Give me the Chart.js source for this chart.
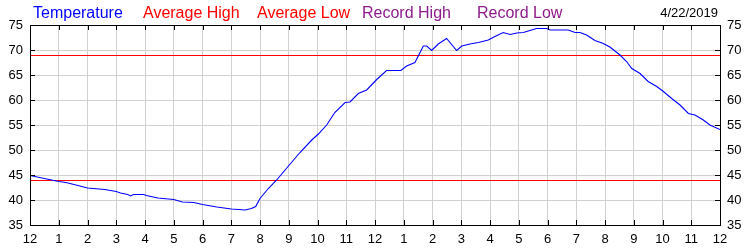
<!DOCTYPE html>
<html>
<head>
<meta charset="utf-8">
<script src="https://cdn.jsdelivr.net/npm/chart.js@4.4.1/dist/chart.umd.min.js"></script>
<style>
  html, body { margin: 0; padding: 0; background: #fff; }
  #wrap { width: 750px; height: 250px; }
</style>
</head>
<body>
<div id="wrap"><canvas id="tempChart" width="750" height="250"></canvas></div>
<script>
// hours after midnight
const hours = [0, 0.5, 1.0, 1.25, 1.6, 2.0, 2.6, 3.0, 3.15, 3.4,
  3.5, 3.6, 3.95, 4.05, 4.45, 5.0, 5.3, 5.7, 6.0, 6.5,
  7.0, 7.48, 7.7, 7.85, 8.0, 8.29, 8.58, 8.99, 9.39, 9.8,
  10.03, 10.32, 10.6, 10.96, 11.13, 11.42, 11.71, 12.06, 12.4, 12.9,
  13.1, 13.39, 13.68, 13.8, 13.97, 14.2, 14.49, 14.84, 15.02, 15.3,
  15.6, 15.94, 16.17, 16.46, 16.7, 16.93, 17.16, 17.39, 17.62, 17.97,
  18.09, 18.72, 18.96, 19.13, 19.36, 19.65, 19.94, 20.17, 20.52, 20.75,
  20.93, 21.22, 21.5, 21.8, 22.03, 22.32, 22.61, 22.9, 23.13, 23.42,
  23.65, 24.0];
const temps = [44.9, 44.3, 43.7, 43.5, 43.0, 42.4, 42.1, 41.7, 41.4, 41.1,
  40.8, 41.1, 41.1, 40.9, 40.4, 40.1, 39.6, 39.5, 39.1, 38.6,
  38.2, 38.0, 38.3, 38.7, 40.3, 42.3, 44.0, 46.8, 49.5, 52.0,
  53.2, 55.0, 57.5, 59.5, 59.6, 61.3, 62.0, 64.1, 65.9, 65.9,
  66.8, 67.5, 70.8, 70.8, 69.9, 71.2, 72.3, 69.9, 70.8, 71.2,
  71.5, 72.0, 72.7, 73.5, 73.1, 73.4, 73.5, 73.9, 74.3, 74.3,
  74.0, 74.0, 73.5, 73.5, 73.0, 71.9, 71.3, 70.6, 69.0, 67.7,
  66.3, 65.3, 63.7, 62.7, 61.7, 60.3, 59.0, 57.3, 57.0, 56.0,
  55.0, 54.1];
const averageHigh = 69;
const averageLow = 44;
const hourLabels = ["12", "1", "2", "3", "4", "5", "6", "7", "8", "9", "10", "11",
  "12", "1", "2", "3", "4", "5", "6", "7", "8", "9", "10", "11", "12"];
const legendNames = ["Temperature", "Average High", "Average Low", "Record High", "Record Low"];
const legendColors = ["#0000ff", "#ff0000", "#ff0000", "#8e1a8c", "#8e1a8c"];
const legendX = [33, 143, 257, 362, 477];
const dateText = "4/22/2019";

const FONT = "'Liberation Sans', Arial, sans-serif";

// box round the plot, little tick marks inside, legend text on top
const framePlugin = {
  id: "frame",
  // shift the flat average lines half a pixel so they come out sharp
  beforeDatasetDraw(chart, args) {
    if (args.index > 0) {
      chart.ctx.save();
      chart.ctx.translate(0, 0.5);
    }
  },
  afterDatasetDraw(chart, args) {
    if (args.index > 0) chart.ctx.restore();
  },
  afterDatasetsDraw(chart) {
    const ctx = chart.ctx;
    const a = chart.chartArea;
    const xs = chart.scales.x;
    const ys = chart.scales.y;
    ctx.save();
    ctx.strokeStyle = "#000";
    ctx.lineWidth = 1;
    ctx.beginPath();
    for (let h = 0; h <= 24; h++) {
      const px = Math.round(xs.getPixelForValue(h)) + 0.5;
      ctx.moveTo(px, a.top); ctx.lineTo(px, a.top + 5);
      ctx.moveTo(px, a.bottom); ctx.lineTo(px, a.bottom - 5);
    }
    for (let v = 35; v <= 75; v += 5) {
      const py = Math.round(ys.getPixelForValue(v)) + 0.5;
      ctx.moveTo(a.left, py); ctx.lineTo(a.left + 5, py);
      ctx.moveTo(a.right, py); ctx.lineTo(a.right - 5, py);
    }
    ctx.stroke();
    ctx.strokeRect(Math.round(a.left) + 0.5, Math.round(a.top) + 0.5,
      Math.round(a.right - a.left), Math.round(a.bottom - a.top));
    ctx.restore();
  },
  afterDraw(chart) {
    const ctx = chart.ctx;
    ctx.save();
    ctx.textBaseline = "alphabetic";
    ctx.font = "16px " + FONT;
    legendNames.forEach((name, i) => {
      ctx.fillStyle = legendColors[i];
      ctx.fillText(name, legendX[i], 18);
    });
    ctx.font = "13px " + FONT;
    ctx.fillStyle = "#000";
    ctx.textAlign = "right";
    ctx.fillText(dateText, 718, 17);
    ctx.restore();
  }
};

const yAxis = (pos) => ({
  type: "linear",
  position: pos,
  min: 35,
  max: 75,
  afterFit(scale) { scale.width = 30; },
  ticks: {
    stepSize: 5,
    padding: 7,
    color: "#000",
    font: { family: FONT, size: 13 }
  },
  grid: { color: "#d0d0d0", drawTicks: false },
  border: { color: "#000" }
});

new Chart(document.getElementById("tempChart"), {
  type: "line",
  data: {
    datasets: [
      {
        label: "Temperature",
        data: hours.map((h, i) => ({ x: h, y: temps[i] })),
        borderColor: "#0000ff",
        borderWidth: 1.1,
        pointRadius: 0,
        tension: 0
      },
      {
        label: "Average High",
        data: [{ x: 0, y: averageHigh }, { x: 24, y: averageHigh }],
        borderColor: "#ff0000",
        borderWidth: 1,
        pointRadius: 0
      },
      {
        label: "Average Low",
        data: [{ x: 0, y: averageLow }, { x: 24, y: averageLow }],
        borderColor: "#ff0000",
        borderWidth: 1,
        pointRadius: 0
      }
    ]
  },
  options: {
    responsive: false,
    animation: false,
    layout: { padding: { top: 25, left: 0, right: 0, bottom: 0 } },
    plugins: {
      legend: { display: false },
      tooltip: { enabled: false }
    },
    scales: {
      x: {
        type: "linear",
        min: 0,
        max: 24,
        afterFit(scale) { scale.height = 25; },
        afterBuildTicks(scale) {
          scale.ticks = hourLabels.map((_, i) => ({ value: i }));
        },
        ticks: {
          autoSkip: false,
          maxRotation: 0,
          padding: 7,
          color: "#000",
          font: { family: FONT, size: 13 },
          callback: (v) => hourLabels[v]
        },
        grid: { color: "#d0d0d0", drawTicks: false },
        border: { color: "#000" }
      },
      y: yAxis("left"),
      y2: yAxis("right")
    }
  },
  plugins: [framePlugin]
});
</script>
</body>
</html>
